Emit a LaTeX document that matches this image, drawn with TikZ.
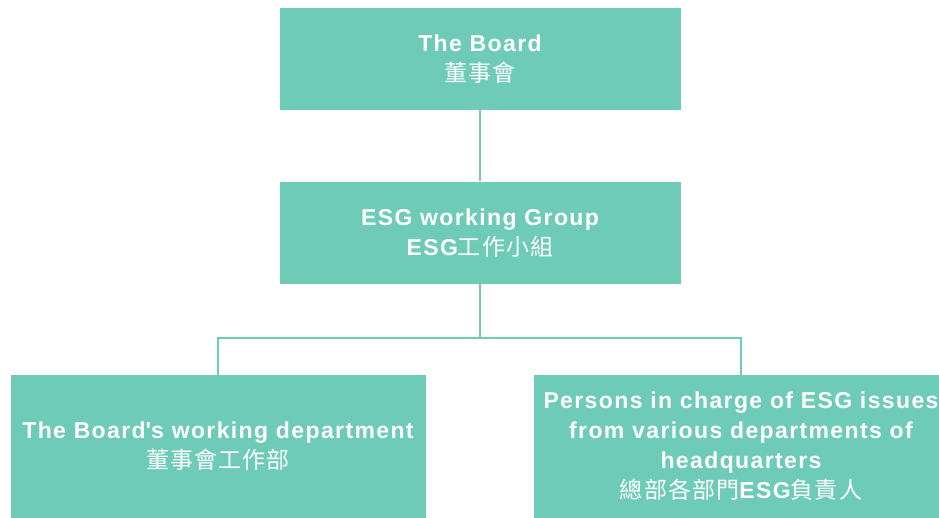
\documentclass[tikz,border=0pt]{standalone}
\usepackage{fontspec}
\setmainfont{Liberation Sans}[LetterSpace=6]
\newfontfamily\cjk{Noto Sans CJK TC}[LetterSpace=5]
\usetikzlibrary{positioning}
\definecolor{esgteal}{HTML}{6DCBB8}
\tikzstyle{unit}=[fill=esgteal, text=white, align=center, inner sep=0pt,
	font=\bfseries\fontsize{23}{30}\selectfont]
\tikzstyle{topunit} = [unit, minimum width=401pt, minimum height=102pt]
\tikzstyle{subunit} = [unit, minimum width=415pt, minimum height=143pt]
\tikzstyle{link} = [draw, line width=1.5pt, color=esgteal]
\newcommand{\topNode}[2]{node (u#1) [topunit]
	{#2}}
\newcommand{\subNode}[2]{node (u#1) [subunit]
	{#2}}

\begin{document}
\begin{tikzpicture}[x=1pt,y=1pt]
	\useasboundingbox (0,0) rectangle (939,-518);

	\path (480,-59) \topNode{1}{The Board\\ {\cjk\mdseries 董事會}};
	\path (u1.south)+(0,-122.5) \topNode{2}{ESG working Group\\ ESG{\cjk\mdseries 工作小組}};
	\path (u2.south)+(-262,-162.5) \subNode{3}{The Board\textquotesingle s working department\\ {\cjk\mdseries 董事會工作部}};
	\path (u2.south)+( 261,-162.5) \subNode{4}{Persons in charge of ESG issues\\ from various departments of\\ headquarters\\ {\cjk\mdseries 總部各部門}ESG{\cjk\mdseries 負責人}};

	% Connectors between the units
	\path [link] (u1.south) -- (u2.north);
	\path [link] (u2.south) -- ++(0,-54) coordinate (fork) -| (u3.north);
	\path [link] (fork) -| (u4.north);

\end{tikzpicture}
\end{document}
